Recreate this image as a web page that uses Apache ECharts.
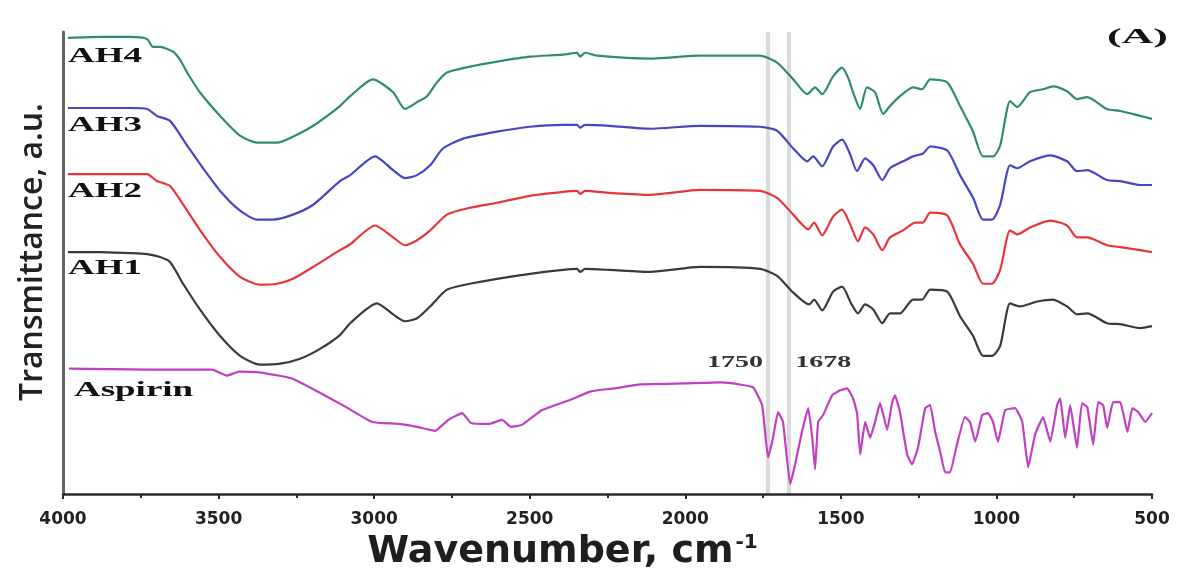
<!DOCTYPE html>
<html>
<head>
<meta charset="utf-8">
<script src="https://cdn.jsdelivr.net/npm/echarts@6/dist/echarts.min.js"></script>
<style>
html,body{margin:0;padding:0;background:#ffffff;}
#chart{width:1180px;height:576px;}
</style>
</head>
<body>
<div id="chart"></div>
<script>
// ---- data (wavenumber cm-1, transmittance a.u.) ----
const seriesNames = ['AH4', 'AH3', 'AH2', 'AH1', 'Aspirin'];
const xTickLabels = ['500', '1000', '1500', '2000', '2500', '3000', '3500', '4000'];
const refLineWavenumbers = [1734, 1666];
const refLineLabels = ['1750', '1678'];

const ah4 = [[3984,46.2],[3881,46.3],[3785,46.3],[3730,46.1],[3711,45.3],[3688,45.3],[3646,44.8],[3624,44.0],[3601,42.7],[3560,40.7],[3495,38.3],[3431,36.3],[3376,35.6],[3312,35.6],[3261,36.2],[3196,37.3],[3110,39.3],[3077,40.3],[3004,42.0],[2939,40.7],[2901,39.0],[2862,39.7],[2830,40.3],[2798,41.7],[2766,42.7],[2692,43.3],[2605,43.8],[2499,44.3],[2393,44.5],[2348,44.7],[2338,44.3],[2322,44.7],[2284,44.4],[2113,44.1],[1952,44.4],[1760,44.4],[1705,43.7],[1653,42.0],[1608,40.5],[1583,41.2],[1560,40.5],[1525,42.3],[1496,43.2],[1477,42.2],[1461,40.7],[1438,39.0],[1416,41.2],[1390,40.7],[1364,38.5],[1342,39.3],[1310,40.3],[1268,41.2],[1239,41.0],[1213,42.0],[1158,41.7],[1117,39.3],[1075,36.7],[1043,34.2],[1011,34.2],[988,35.3],[956,39.8],[933,39.2],[892,40.7],[850,41.0],[818,41.3],[773,40.8],[741,40.0],[708,40.2],[645,39.0],[602,38.8],[538,38.3],[500,38.0]];

const ah3 = [[3984,39.1],[3881,39.1],[3785,39.1],[3730,39.0],[3698,38.3],[3656,37.8],[3601,35.3],[3550,33.0],[3495,30.7],[3431,28.7],[3376,27.8],[3325,27.8],[3261,28.3],[3196,29.3],[3110,31.7],[3077,32.3],[2997,34.2],[2939,32.8],[2901,32.0],[2862,32.3],[2820,33.3],[2779,35.0],[2714,36.0],[2605,36.7],[2499,37.2],[2393,37.4],[2348,37.4],[2338,37.1],[2322,37.4],[2242,37.3],[2113,37.0],[1952,37.3],[1760,37.2],[1705,36.8],[1653,35.0],[1608,33.7],[1589,34.2],[1560,33.2],[1525,35.2],[1496,35.9],[1470,34.4],[1448,32.7],[1422,34.0],[1396,33.3],[1367,31.8],[1342,33.0],[1300,33.7],[1268,34.2],[1236,34.5],[1213,35.2],[1158,34.8],[1117,32.3],[1075,30.0],[1043,27.8],[1014,27.8],[988,29.3],[956,33.3],[933,33.0],[892,33.7],[827,34.3],[773,33.7],[741,32.7],[708,32.8],[645,31.8],[602,31.7],[538,31.3],[500,31.3]];

const ah2 = [[3984,32.4],[3881,32.4],[3785,32.4],[3730,32.4],[3698,31.7],[3656,31.2],[3601,28.7],[3550,26.3],[3495,24.0],[3431,22.0],[3367,21.2],[3312,21.3],[3261,21.8],[3196,23.0],[3110,24.7],[3077,25.3],[2997,27.2],[2939,26.0],[2901,25.2],[2862,25.7],[2820,26.7],[2766,28.3],[2692,29.0],[2605,29.5],[2499,30.2],[2393,30.6],[2348,30.7],[2338,30.4],[2322,30.7],[2242,30.5],[2113,30.3],[1952,30.8],[1760,30.7],[1705,30.0],[1653,28.3],[1605,26.8],[1586,27.5],[1560,26.2],[1525,28.1],[1496,28.8],[1470,27.3],[1445,25.6],[1422,27.0],[1396,26.3],[1367,24.7],[1342,26.0],[1300,26.7],[1261,27.5],[1236,27.5],[1213,28.5],[1158,28.2],[1117,25.3],[1075,23.3],[1043,21.3],[1014,21.3],[988,22.7],[956,26.7],[933,26.3],[892,27.0],[827,27.7],[773,27.2],[741,26.0],[708,26.0],[645,25.2],[602,25.0],[538,24.7],[500,24.5]];

const ah1 = [[3984,24.5],[3881,24.5],[3785,24.4],[3730,24.3],[3688,24.0],[3656,23.5],[3614,21.3],[3560,18.7],[3495,16.0],[3431,14.0],[3367,13.1],[3302,13.2],[3238,13.7],[3174,14.7],[3110,16.1],[3077,17.3],[2991,19.3],[2939,18.2],[2901,17.5],[2862,17.8],[2820,19.0],[2766,20.7],[2692,21.3],[2605,21.8],[2499,22.3],[2393,22.7],[2348,22.8],[2338,22.5],[2322,22.8],[2242,22.7],[2113,22.5],[1952,23.0],[1760,22.8],[1705,22.1],[1653,20.4],[1602,19.2],[1586,19.7],[1560,18.6],[1525,20.5],[1496,21.0],[1467,19.3],[1445,18.3],[1422,19.2],[1396,18.7],[1367,17.3],[1342,18.3],[1310,18.3],[1268,19.7],[1239,19.7],[1213,20.7],[1158,20.5],[1117,18.0],[1075,16.0],[1043,14.0],[1014,14.0],[988,15.0],[956,19.3],[924,19.0],[869,19.5],[818,19.7],[773,19.0],[741,18.2],[708,18.3],[645,17.3],[602,17.2],[538,16.8],[500,17.0]];

const aspirin = [[3981,12.7],[3720,12.6],[3521,12.6],[3473,12.0],[3434,12.4],[3364,12.3],[3264,11.7],[3177,10.3],[3090,8.8],[3007,7.3],[2920,7.1],[2862,6.8],[2804,6.4],[2762,7.5],[2717,8.2],[2689,7.2],[2631,7.1],[2589,7.5],[2560,6.8],[2525,7.0],[2460,8.5],[2373,9.5],[2303,10.4],[2229,10.7],[2145,11.1],[2001,11.2],[1885,11.3],[1827,11.1],[1782,10.8],[1753,9.0],[1734,3.7],[1718,5.7],[1702,8.3],[1686,7.3],[1663,1.0],[1647,3.0],[1625,6.3],[1605,8.7],[1592,5.7],[1583,2.5],[1573,7.3],[1557,8.0],[1528,10.0],[1502,10.5],[1480,10.7],[1461,9.7],[1448,8.2],[1438,4.0],[1422,7.3],[1406,5.7],[1390,7.3],[1374,9.2],[1351,6.5],[1335,9.3],[1326,10.0],[1310,8.3],[1287,4.0],[1271,3.0],[1252,4.7],[1229,8.7],[1213,9.0],[1197,6.3],[1181,4.3],[1165,2.2],[1149,2.2],[1127,5.0],[1101,7.8],[1085,7.3],[1068,5.3],[1046,8.0],[1027,8.2],[1011,7.3],[995,5.3],[972,8.5],[940,8.7],[917,7.3],[898,2.7],[876,6.0],[850,7.8],[827,5.3],[805,9.0],[795,9.7],[779,5.7],[763,9.0],[741,4.7],[725,9.2],[708,8.8],[689,5.0],[673,9.3],[657,9.0],[644,6.7],[625,9.3],[602,9.3],[579,6.3],[563,8.7],[544,8.3],[522,7.3],[500,8.2]];

// ---- styling ----
const seriesData = [ah4, ah3, ah2, ah1, aspirin];
const seriesColors = ['#2f8a76', '#4646c4', '#e8353b', '#3a3a3a', '#c23ec2'];
const labelOffsets = [[0, 19], [0, 18], [0, 18], [0, 17], [5, 22]];

const chart = echarts.init(document.getElementById('chart'), null, { renderer: 'canvas' });

const refMarkLine = {
  silent: true,
  symbol: 'none',
  z: 0,
  label: { show: false },
  emphasis: { disabled: true },
  lineStyle: { color: '#dadada', width: 4, type: 'solid', opacity: 1 },
  data: refLineWavenumbers.map(w => ({ xAxis: w }))
};

const lineSeries = seriesNames.map((name, i) => {
  const s = {
    type: 'line',
    name: name,
    data: seriesData[i],
    showSymbol: false,
    symbol: 'none',
    smooth: i === 4 ? 0.12 : 0.22,
    lineStyle: { color: seriesColors[i], width: 2.2 },
    itemStyle: { color: seriesColors[i] },
    emphasis: { disabled: true },
    silent: true,
    clip: false,
    z: 3
  };
  if (i === 4) s.markLine = refMarkLine;
  return s;
});

chart.setOption({
  animation: false,
  backgroundColor: '#ffffff',
  grid: { left: 63, right: 28, top: 32, bottom: 76, containLabel: false },
  xAxis: {
    type: 'value',
    min: 500,
    max: 4000,
    interval: 500,
    inverse: true,
    axisLine: { show: true, lineStyle: { color: '#2a2a2a', width: 2.5 } },
    axisTick: { show: true, length: 5, lineStyle: { color: '#2a2a2a', width: 2 } },
    minorTick: { show: true, splitNumber: 2, length: 4, lineStyle: { color: '#2a2a2a', width: 2 } },
    splitLine: { show: false },
    minorSplitLine: { show: false },
    axisLabel: {
      margin: 17,
      fontFamily: 'DejaVu Sans',
      fontWeight: 'bold',
      fontSize: 17,
      color: '#222',
      formatter: v => xTickLabels[Math.round((v - 500) / 500)]
    },
    name: 'Wavenumber, cm{sup|-1}',
    nameLocation: 'middle',
    nameGap: 39,
    nameTextStyle: {
      fontFamily: 'DejaVu Sans',
      fontWeight: 'bold',
      fontSize: 38,
      color: '#1e1e1e',
      padding: [0, 90, 0, 0],
      rich: {
        sup: { fontFamily: 'DejaVu Sans', fontWeight: 'bold', fontSize: 20, color: '#1e1e1e', verticalAlign: 'top', padding: [0, 0, 17, 2] }
      }
    }
  },
  yAxis: {
    type: 'value',
    min: 0,
    max: 46.8,
    axisLine: { show: true, lineStyle: { color: '#666666', width: 3 } },
    axisTick: { show: false },
    axisLabel: { show: false },
    splitLine: { show: false },
    name: 'Transmittance, a.u.',
    nameLocation: 'middle',
    nameGap: 14,
    nameTextStyle: {
      fontFamily: 'Open Sans',
      fontWeight: 600,
      fontSize: 32,
      color: '#222',
      padding: [0, 0, 0, 22]
    }
  },
  series: lineSeries
});

// ---- text annotations anchored through the chart's own scales ----
const graphics = [];
seriesNames.forEach((name, i) => {
  const first = seriesData[i][0];
  const p = chart.convertToPixel({ gridIndex: 0 }, first);
  graphics.push({
    type: 'text',
    x: p[0] + labelOffsets[i][0],
    y: p[1] + labelOffsets[i][1],
    scaleX: 1.85,
    z: 10,
    style: {
      text: name,
      fill: '#111',
      font: 'bold 20px "Liberation Serif"',
      textAlign: 'left', align: 'left',
      textVerticalAlign: 'middle', verticalAlign: 'middle'
    }
  });
});
refLineWavenumbers.forEach((w, i) => {
  const p = chart.convertToPixel({ gridIndex: 0 }, [w, 13.3]);
  const right = i === 0;
  graphics.push({
    type: 'text',
    x: right ? p[0] - 5 : p[0] + 6,
    y: p[1],
    scaleX: 1.75,
    z: 10,
    style: {
      text: refLineLabels[i],
      fill: '#333',
      font: 'bold 16px "Liberation Serif"',
      textAlign: right ? 'right' : 'left', align: right ? 'right' : 'left',
      textVerticalAlign: 'middle', verticalAlign: 'middle'
    }
  });
});
graphics.push({
  type: 'text',
  right: 12,
  top: 26,
  z: 10,
  scaleX: 2.0,
  style: {
    text: '(A)',
    fill: '#111',
    font: 'bold 22px "Liberation Serif"'
  }
});
chart.setOption({ graphic: graphics });
</script>
</body>
</html>
